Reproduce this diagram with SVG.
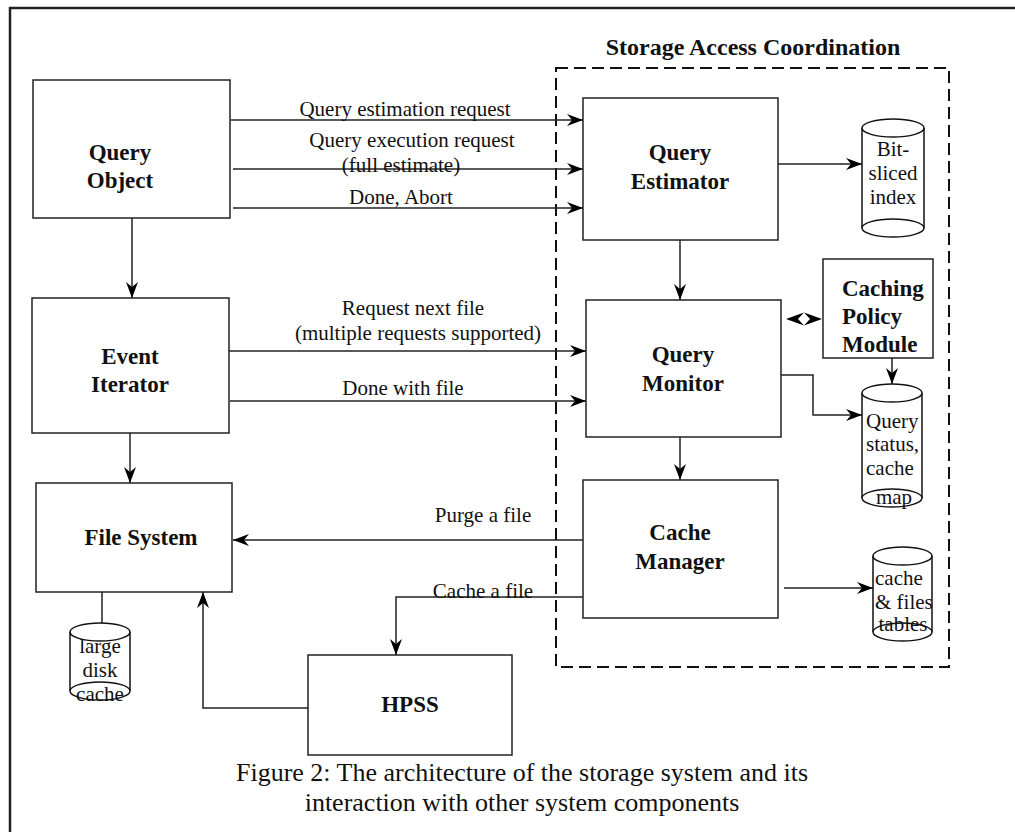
<svg xmlns="http://www.w3.org/2000/svg" width="1015" height="832" viewBox="0 0 1015 832">
<defs>
<marker id="ah" markerUnits="userSpaceOnUse" markerWidth="18" markerHeight="12" refX="16" refY="6" orient="auto-start-reverse"><path d="M0,0 L16,6 L0,12 L5,6 z" fill="#000"/></marker>
<style>
.box{fill:#fff;stroke:#222;stroke-width:1.5}
.cyl{fill:#fff;stroke:#111;stroke-width:1.5}
.ln{fill:none;stroke:#222;stroke-width:1.5}
.arr{fill:none;stroke:#222;stroke-width:1.5;marker-end:url(#ah)}
.nt{font-family:"Liberation Serif","Times New Roman",serif;font-weight:bold;font-size:23px;text-anchor:middle;fill:#111}
.nl{font-family:"Liberation Serif","Times New Roman",serif;font-weight:bold;font-size:23px;text-anchor:start;fill:#111}
.lb{font-family:"Liberation Serif","Times New Roman",serif;font-size:21px;text-anchor:middle;fill:#111}
.ct{font-family:"Liberation Serif","Times New Roman",serif;font-size:21px;text-anchor:start;fill:#111}
.cap{font-family:"Liberation Serif","Times New Roman",serif;font-size:26px;text-anchor:middle;fill:#111}
.ttl{font-family:"Liberation Serif","Times New Roman",serif;font-weight:bold;font-size:24px;text-anchor:middle;fill:#111}
</style>
</defs>
<rect width="1015" height="832" fill="#fff"/>
<path d="M10,832 V8 H1015" fill="none" stroke="#222" stroke-width="2.5"/>
<g id="coordination">
<rect x="556" y="68" width="393" height="599" fill="none" stroke="#111" stroke-width="2" stroke-dasharray="12,6"/>
<text x="753" y="55" class="ttl">Storage Access Coordination</text>
</g>
<g id="connectors">
<line class="arr" x1="231" y1="120" x2="583" y2="120"/>
<text class="lb" x="405" y="116">Query estimation request</text>
<line class="arr" x1="233" y1="169" x2="583" y2="169"/>
<text class="lb" x="412" y="147">Query execution request</text>
<text class="lb" x="401" y="172">(full estimate)</text>
<line class="arr" x1="233" y1="208" x2="583" y2="208"/>
<text class="lb" x="401" y="204">Done, Abort</text>
<line class="arr" x1="132" y1="218" x2="132" y2="298"/>
<line class="arr" x1="130" y1="433" x2="130" y2="483"/>
<line class="arr" x1="228" y1="351" x2="586" y2="351"/>
<text class="lb" x="413" y="315">Request next file</text>
<text class="lb" x="418" y="340">(multiple requests supported)</text>
<line class="arr" x1="230" y1="401" x2="586" y2="401"/>
<text class="lb" x="403" y="395">Done with file</text>
<line class="arr" x1="680" y1="240" x2="680" y2="300"/>
<line class="arr" x1="778" y1="164" x2="862" y2="164"/>
<path d="M786,319 L804,312.5 L798,319 L804,325.5 Z M822,319 L804,312.5 L810,319 L804,325.5 Z" fill="#000"/>
<line class="arr" x1="892" y1="358" x2="892" y2="384"/>
<polyline class="arr" points="781,375 813,375 813,415 862,415"/>
<line class="arr" x1="680" y1="437" x2="680" y2="480"/>
<line class="arr" x1="583" y1="540" x2="233" y2="540"/>
<text class="lb" x="483" y="522">Purge a file</text>
<polyline class="arr" points="583,597 396,597 396,655"/>
<text class="lb" x="483" y="598">Cache a file</text>
<polyline class="arr" points="308,708 203,708 203,592"/>
<line class="ln" x1="102" y1="592" x2="102" y2="624"/>
<line class="arr" x1="784" y1="588" x2="873" y2="588"/>
</g>
<g id="query-object">
<rect class="box" x="33" y="80" width="197" height="138"/>
<text class="nt" x="120" y="160">Query</text>
<text class="nt" x="120" y="188">Object</text>
</g>
<g id="event-iterator">
<rect class="box" x="32" y="298" width="197" height="135"/>
<text class="nt" x="130" y="364">Event</text>
<text class="nt" x="130" y="392">Iterator</text>
</g>
<g id="file-system">
<rect class="box" x="36" y="483" width="196" height="109"/>
<text class="nt" x="141" y="545">File System</text>
</g>
<g id="large-disk-cache">
<path class="cyl" d="M70,632 V691 M130,632 V691"/>
<ellipse class="cyl" cx="100" cy="632" rx="30" ry="9"/>
<ellipse class="cyl" cx="100" cy="691" rx="30" ry="9"/>
<text class="lb" x="100" y="653">large</text>
<text class="lb" x="100" y="677">disk</text>
<text class="lb" x="100" y="701">cache</text>
</g>
<g id="hpss">
<rect class="box" x="308" y="655" width="204" height="100"/>
<text class="nt" x="410" y="712">HPSS</text>
</g>
<g id="query-estimator">
<rect class="box" x="583" y="98" width="195" height="142"/>
<text class="nt" x="680" y="160">Query</text>
<text class="nt" x="680" y="189">Estimator</text>
</g>
<g id="query-monitor">
<rect class="box" x="586" y="300" width="195" height="137"/>
<text class="nt" x="683" y="362">Query</text>
<text class="nt" x="683" y="391">Monitor</text>
</g>
<g id="cache-manager">
<rect class="box" x="583" y="480" width="195" height="138"/>
<text class="nt" x="680" y="540">Cache</text>
<text class="nt" x="680" y="569">Manager</text>
</g>
<g id="caching-policy-module">
<rect class="box" x="823" y="259" width="110" height="99"/>
<text class="nl" x="842" y="296">Caching</text>
<text class="nl" x="842" y="324">Policy</text>
<text class="nl" x="842" y="352">Module</text>
</g>
<g id="bit-sliced-index">
<path class="cyl" d="M862,128 V228 M924,128 V228"/>
<ellipse class="cyl" cx="893" cy="128" rx="31" ry="9"/>
<ellipse class="cyl" cx="893" cy="228" rx="31" ry="9"/>
<text class="lb" x="893" y="156">Bit-</text>
<text class="lb" x="893" y="180">sliced</text>
<text class="lb" x="893" y="204">index</text>
</g>
<g id="query-status">
<path class="cyl" d="M862,393 V498 M922,393 V498"/>
<ellipse class="cyl" cx="892" cy="393" rx="30" ry="9"/>
<ellipse class="cyl" cx="892" cy="498" rx="30" ry="9"/>
<text class="ct" x="866" y="428">Query</text>
<text class="ct" x="866" y="451">status,</text>
<text class="ct" x="866" y="475">cache</text>
<text class="lb" x="894" y="504">map</text>
</g>
<g id="cache-files-tables">
<path class="cyl" d="M873,556 V632 M932,556 V632"/>
<ellipse class="cyl" cx="902.5" cy="556" rx="29.5" ry="9"/>
<ellipse class="cyl" cx="902.5" cy="632" rx="29.5" ry="9"/>
<text class="ct" x="875" y="585">cache</text>
<text class="ct" x="875" y="609">&amp; files</text>
<text class="lb" x="903" y="631">tables</text>
</g>
<g id="caption">
<text class="cap" x="522" y="781">Figure 2: The architecture of the storage system and its</text>
<text class="cap" x="522" y="811">interaction with other system components</text>
</g>
</svg>
